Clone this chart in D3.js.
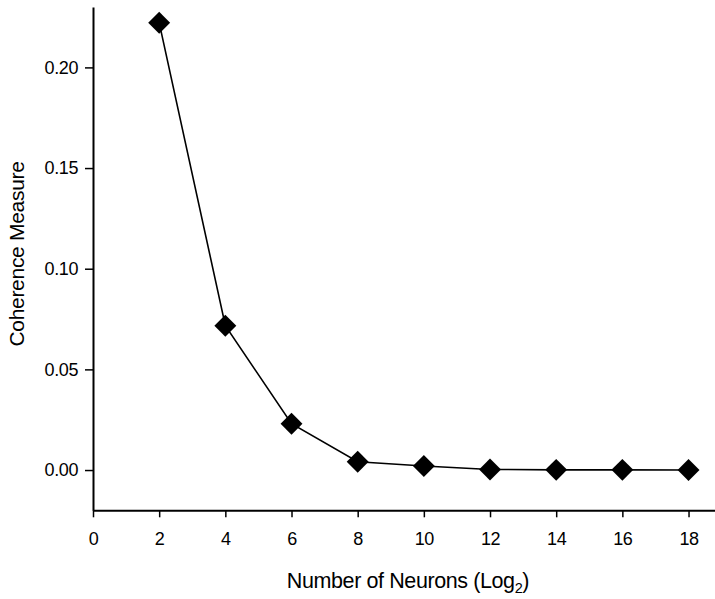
<!DOCTYPE html>
<html><head><meta charset="utf-8">
<script src="https://cdn.jsdelivr.net/npm/d3@7"></script>
<style>
html,body{margin:0;padding:0;background:#fff;}
svg{display:block;}
text{font-family:"Liberation Sans",Arial,Helvetica,sans-serif;fill:#000;}
</style></head>
<body>
<svg id="chart" width="715" height="599"></svg>
<script>
const neurons = [2, 4, 6, 8, 10, 12, 14, 16, 18];
const coherence = [0.2222, 0.0717, 0.0230, 0.0041, 0.0020, 0.0003, 0.0001, 0.0001, 0.0000];
const xTicks = [0, 2, 4, 6, 8, 10, 12, 14, 16, 18];
const yTicks = [0.00, 0.05, 0.10, 0.15, 0.20];
const xTitle = "Number of Neurons (Log";
const xTitleSub = "2";
const yTitle = "Coherence Measure";

const svg = d3.select("#chart");
const x = d3.scaleLinear().domain([0, 18.8]).range([93, 715]);
const y = d3.scaleLinear().domain([-0.02, 0.23]).range([510.3, 7]);

const xAxis = d3.axisBottom(x).tickValues(xTicks).tickFormat(d3.format("d"))
  .tickSizeInner(7).tickSizeOuter(0).tickPadding(15);
const yAxis = d3.axisLeft(y).tickValues(yTicks).tickFormat(d3.format(".2f"))
  .tickSizeInner(8).tickSizeOuter(0).tickPadding(7);

const gx = svg.append("g").attr("transform", `translate(0,${y(-0.02)})`).call(xAxis);
const gy = svg.append("g").attr("transform", `translate(${x(0)},0)`).call(yAxis);
[gx, gy].forEach(g => {
  g.select(".domain").attr("stroke", "#000").attr("stroke-width", 2);
  g.selectAll(".tick line").attr("stroke", "#000").attr("stroke-width", 1.5);
  g.selectAll(".tick text").attr("font-size", 18).attr("fill", "#000")
    .attr("font-family", '"Liberation Sans",Arial,sans-serif').style("letter-spacing", "-0.4px");
});

const line = d3.line().x((d, i) => x(neurons[i])).y(d => y(d));
svg.append("path").datum(coherence).attr("d", line)
  .attr("fill", "none").attr("stroke", "#000").attr("stroke-width", 1.6);

const diamond = d3.symbol().type(d3.symbolSquare).size(240);
svg.append("g").selectAll("path.m").data(coherence).join("path")
  .attr("class", "m")
  .attr("d", diamond)
  .attr("transform", (d, i) => `translate(${x(neurons[i])},${y(d)}) rotate(45)`)
  .attr("fill", "#000");

const t = svg.append("text").attr("x", 408).attr("y", 588)
  .attr("text-anchor", "middle").attr("font-size", 21.5).style("letter-spacing", "-0.4px");
t.append("tspan").text(xTitle);
t.append("tspan").attr("font-size", 14.5).attr("dy", 5).text(xTitleSub);
t.append("tspan").attr("dy", -5).text(")");

svg.append("text").attr("transform", "translate(24,254) rotate(-90)")
  .attr("text-anchor", "middle").attr("font-size", 21).style("letter-spacing", "-0.3px")
  .text(yTitle);
</script>
</body></html>
